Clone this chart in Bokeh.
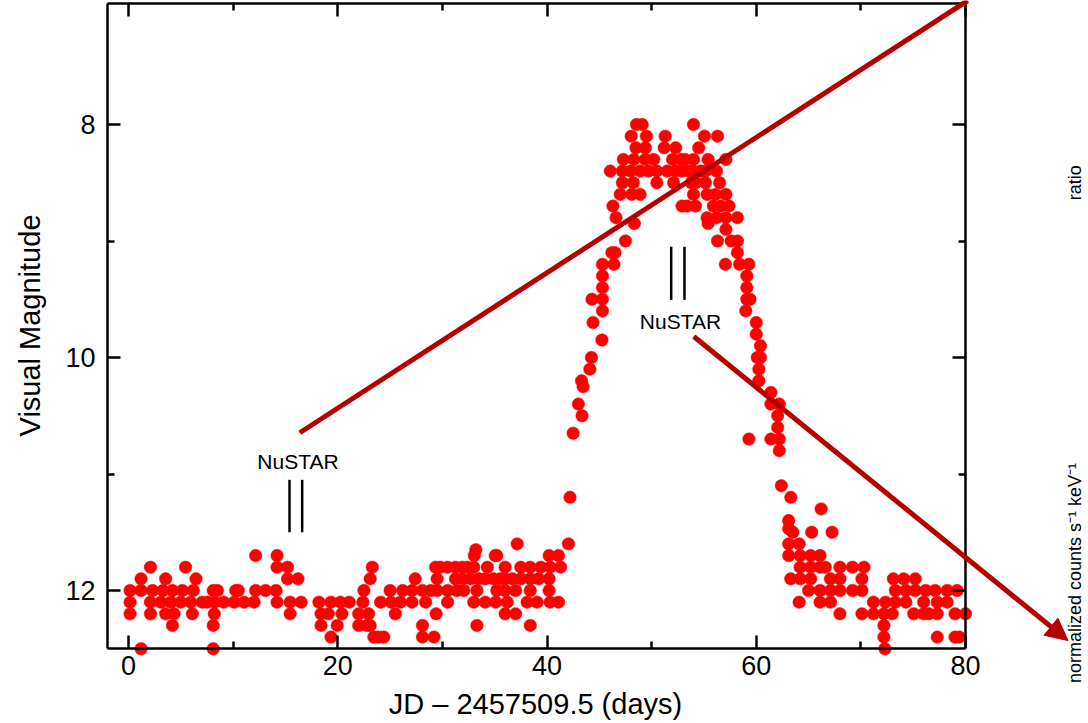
import math
from bokeh.plotting import figure
from bokeh.models import (Range1d, LinearAxis, FixedTicker, Label, Arrow,
                          NormalHead, ColumnDataSource)
from bokeh.embed import file_html
from bokeh.resources import INLINE

# ---------------- data: (JD - 2457509.5 [days], visual magnitude) ----------------
early_quiescence = [
    (1.2, 12.5), (8.1, 12.5),
    (19.35, 12.4),
    (4.2, 12.3), (8.1, 12.3), (18.4, 12.3),
    (0.15, 12.2), (2.1, 12.2), (3.55, 12.2), (4.35, 12.2), (6.1, 12.2), (8.2, 12.2),
    (15.45, 12.2), (18.4, 12.2), (19.1, 12.2),
    (0.15, 12.1), (2.1, 12.1), (3.1, 12.1), (4.05, 12.1), (5.0, 12.1), (5.95, 12.1),
    (7.05, 12.1), (7.55, 12.1), (8.2, 12.1), (9.1, 12.1), (10.1, 12.1), (11.05, 12.1),
    (12.0, 12.1), (14.2, 12.1), (15.45, 12.1), (16.5, 12.1), (18.2, 12.1), (19.35, 12.1),
    (0.15, 12.0), (1.2, 12.0), (2.3, 12.0), (3.3, 12.0), (4.2, 12.0), (5.15, 12.0),
    (6.2, 12.0), (8.1, 12.0), (8.5, 12.0), (10.25, 12.0), (10.5, 12.0), (12.15, 12.0),
    (13.1, 12.0), (14.1, 12.0),
    (1.2, 11.9), (3.55, 11.9), (6.45, 11.9), (15.2, 11.9), (16.2, 11.9),
    (2.1, 11.8), (5.45, 11.8), (14.2, 11.8), (15.2, 11.8),
    (12.15, 11.7), (14.2, 11.7),
]

late_quiescence = [
    (23.45, 12.4), (23.9, 12.4), (24.4, 12.4), (28.1, 12.4), (29.2, 12.4),
    (19.95, 12.3), (22.0, 12.3), (22.8, 12.3), (23.1, 12.3), (28.1, 12.3), (33.3, 12.3),
    (38.4, 12.3),
    (20.4, 12.2), (22.0, 12.2), (22.95, 12.2), (25.5, 12.2), (29.4, 12.2), (36.0, 12.2),
    (37.0, 12.2),
    (20.25, 12.1), (21.1, 12.1), (22.4, 12.1), (24.1, 12.1), (25.1, 12.1), (26.0, 12.1),
    (27.1, 12.1), (28.4, 12.1), (30.5, 12.1), (33.0, 12.1), (34.1, 12.1), (35.1, 12.1),
    (36.2, 12.1), (38.1, 12.1), (39.05, 12.1), (40.3, 12.1), (41.1, 12.1),
    (22.5, 12.0), (25.0, 12.0), (26.2, 12.0), (27.1, 12.0), (28.1, 12.0), (28.9, 12.0),
    (29.5, 12.0), (30.5, 12.0), (31.4, 12.0), (32.05, 12.0), (33.3, 12.0), (35.2, 12.0),
    (36.0, 12.0), (37.0, 12.0), (38.4, 12.0), (40.2, 12.0),
    (23.1, 11.9), (27.4, 11.9), (29.5, 11.9), (31.25, 11.9), (31.9, 11.9), (32.7, 11.9),
    (33.5, 11.9), (34.1, 11.9), (34.9, 11.9), (35.55, 11.9), (36.0, 11.9), (36.7, 11.9),
    (37.5, 11.9), (38.4, 11.9), (39.2, 11.9), (40.2, 11.9),
    (23.3, 11.8), (29.35, 11.8), (29.8, 11.8), (30.5, 11.8), (31.25, 11.8), (31.9, 11.8),
    (32.4, 11.8), (33.0, 11.8), (34.3, 11.8), (36.0, 11.8), (37.5, 11.8), (38.4, 11.8),
    (39.4, 11.8), (40.3, 11.8), (41.3, 11.8),
    (33.05, 11.7), (35.05, 11.7), (35.2, 11.7), (40.2, 11.7), (41.1, 11.7),
    (33.2, 11.65), (37.15, 11.6),
]

outburst = [
    (42.05, 11.6), (42.2, 11.2), (42.5, 10.65), (43.0, 10.4), (43.35, 10.5), (43.3, 10.2),
    (43.45, 10.25), (44.1, 10.1), (44.25, 10.0), (45.25, 9.85), (44.4, 9.7), (45.3, 9.6),
    (44.3, 9.5), (45.3, 9.5), (45.3, 9.4), (45.3, 9.3), (45.3, 9.2), (46.4, 9.2),
    (46.2, 9.1), (46.5, 9.1), (47.5, 9.0), (48.35, 8.85), (46.6, 8.8), (46.3, 8.7),
    (47.0, 8.6), (48.1, 8.6), (48.9, 8.6),
    (47.2, 8.5), (48.25, 8.5), (50.5, 8.5), (52.1, 8.5), (53.8, 8.5),
    (46.05, 8.4), (47.2, 8.4), (48.0, 8.4), (48.9, 8.4), (49.7, 8.4), (50.5, 8.4),
    (51.5, 8.4), (52.3, 8.4), (52.9, 8.4), (53.55, 8.4),
    (47.3, 8.3), (48.3, 8.3), (49.4, 8.3), (50.2, 8.3), (52.0, 8.3), (52.8, 8.3), (53.2, 8.3),
    (48.5, 8.2), (49.4, 8.2), (51.2, 8.2), (52.3, 8.2),
    (48.05, 8.1), (49.5, 8.1), (51.3, 8.1),
    (48.55, 8.0), (49.1, 8.0),
    (52.9, 8.7), (53.4, 8.7),
    (54.0, 8.0), (55.05, 8.1), (56.3, 8.1), (54.5, 8.2),
    (54.0, 8.3), (55.4, 8.3), (57.1, 8.3),
    (54.0, 8.4), (54.7, 8.4), (55.15, 8.4), (56.2, 8.4),
    (54.2, 8.5), (55.15, 8.5), (56.5, 8.5),
    (54.0, 8.6), (55.3, 8.6), (56.1, 8.6), (57.1, 8.6),
    (54.2, 8.7), (55.9, 8.7), (56.6, 8.7), (57.4, 8.7),
    (55.3, 8.8), (56.2, 8.8), (57.1, 8.8), (58.2, 8.8),
    (55.4, 8.85), (57.1, 8.9),
    (56.3, 9.0), (57.6, 9.0), (58.2, 9.0), (58.2, 9.1),
    (57.05, 9.2), (58.4, 9.2), (59.3, 9.2),
    (59.1, 9.3), (59.1, 9.4), (59.1, 9.5), (59.4, 9.5), (59.0, 9.6),
    (60.0, 9.7), (60.0, 9.8), (60.4, 9.9), (60.1, 10.0), (60.4, 10.0), (60.25, 10.1),
    (60.25, 10.2),
]

decline = [
    (61.4, 10.3), (61.4, 10.4), (62.2, 10.4), (62.05, 10.5), (62.05, 10.6),
    (59.3, 10.7), (61.4, 10.7), (62.2, 10.7), (62.2, 10.8),
    (62.4, 11.1), (63.3, 11.2), (66.2, 11.3), (63.1, 11.4),
    (63.1, 11.47), (63.5, 11.5), (65.3, 11.5), (67.25, 11.5),
    (63.1, 11.6), (64.1, 11.6),
    (63.1, 11.7), (64.2, 11.7), (65.2, 11.7), (66.1, 11.7),
    (64.2, 11.8), (65.2, 11.8), (66.1, 11.8), (66.6, 11.8), (68.0, 11.8), (69.2, 11.8),
    (70.3, 11.8),
    (63.3, 11.9), (64.2, 11.9), (65.2, 11.9), (67.1, 11.9), (68.0, 11.9), (70.1, 11.9),
    (73.1, 11.9), (74.1, 11.9), (75.2, 11.9),
    (65.0, 12.0), (66.1, 12.0), (67.1, 12.0), (68.0, 12.0), (69.2, 12.0), (70.1, 12.0),
    (73.3, 12.0), (74.3, 12.0), (75.2, 12.0), (76.2, 12.0), (77.1, 12.0), (78.25, 12.0),
    (79.2, 12.0),
    (64.1, 12.1), (66.1, 12.1), (67.1, 12.1), (71.2, 12.1), (72.35, 12.1), (73.3, 12.1),
    (74.3, 12.1), (76.0, 12.1), (77.3, 12.1), (78.25, 12.1),
    (68.0, 12.2), (70.1, 12.2), (71.2, 12.2), (72.2, 12.2), (73.0, 12.2), (75.05, 12.2),
    (76.0, 12.2), (76.5, 12.2), (77.3, 12.2), (79.0, 12.2), (80.0, 12.2),
    (72.2, 12.3), (72.2, 12.4), (77.3, 12.4), (79.0, 12.4), (79.4, 12.4), (72.3, 12.5),
]

x_ticks = [0, 20, 40, 60, 80]
x_minor = [10, 30, 50, 70]
y_ticks = [8, 10, 12]
y_minor = [9, 11]

# NuSTAR observation epochs (start/end days) and marker placement
nustar_epochs = [(15.39, 16.6), (51.87, 53.14)]
nustar_marks = [(11.05, 11.50), (9.05, 9.505)]
nustar_text = [(16.2, 10.89), (52.76, 9.69)]

# overlaid (hand drawn) dark red pointer lines, in data units
pointer_line = (16.37, 10.646, 80.21, 6.936)
pointer_arrow = (54.03, 9.82, 89.8, 12.43)

# ---------------- figure ----------------
# the frame covers the whole canvas; the axes box spans x in [AX0, AX1], y in [AY_TOP, AY_BOT]
X0, X1 = -12.234, 91.756
Y_BOT, Y_TOP = 13.1416, 6.9356
AX0, AX1 = -2.007, 80.0
AY_BOT, AY_TOP = 12.498, 6.961
DARK = "#b50000"
FONT = "Liberation Sans"

p = figure(width=1088, height=723, output_backend="svg", toolbar_location=None,
           x_range=Range1d(X0, X1), y_range=Range1d(Y_BOT, Y_TOP),
           x_axis_location=None, y_axis_location=None,
           min_border_left=0, min_border_right=0, min_border_top=0,
           min_border_bottom=0)
p.outline_line_color = None
p.xgrid.visible = False
p.ygrid.visible = False
p.background_fill_color = "white"
p.border_fill_color = "white"


def make_axis(loc, ticks, minor, bounds, labels=True):
    ax = LinearAxis(fixed_location=loc)
    ax.ticker = FixedTicker(ticks=ticks, minor_ticks=minor)
    ax.bounds = bounds
    ax.axis_line_width = 2.5
    ax.axis_line_color = "black"
    ax.major_tick_line_width = 2.5
    ax.minor_tick_line_width = 2.5
    ax.major_tick_in = 13
    ax.major_tick_out = 0
    ax.minor_tick_in = 7
    ax.minor_tick_out = 0
    ax.major_label_text_font = FONT
    ax.major_label_text_font_size = "27px"
    ax.major_label_text_color = "black" if labels else None
    return ax


bottom = make_axis(AY_BOT, x_ticks, x_minor, (AX0, AX1))
bottom.major_label_standoff = 7
p.add_layout(bottom, "below")

left = make_axis(AX0, y_ticks, y_minor, (AY_TOP, AY_BOT))
left.major_label_standoff = 12
p.add_layout(left, "left")

top = make_axis(AY_TOP, x_ticks, x_minor, (AX0, AX1), labels=False)
p.add_layout(top, "above")

right = make_axis(AX1, y_ticks, y_minor, (AY_TOP, AY_BOT), labels=False)
p.add_layout(right, "right")

# axis titles
p.add_layout(Label(x=38.9, y=12.97, text="JD \u2013 2457509.5 (days)", text_font=FONT,
                   text_font_size="29px", text_align="center", text_baseline="middle",
                   text_color="black"))
p.add_layout(Label(x=-9.37, y=9.725, text="Visual Magnitude", angle=math.pi / 2,
                   text_font=FONT, text_font_size="29px", text_align="center",
                   text_baseline="middle", text_color="black"))

# data points
pts = early_quiescence + late_quiescence + outburst + decline
src = ColumnDataSource(dict(x=[d for d, m in pts], y=[m for d, m in pts]))
p.scatter("x", "y", source=src, marker="circle", size=12.5,
          fill_color="#ff0000", line_color="#ff0000", line_width=0.5)

# NuSTAR markers
for (a, b), (y0, y1), (tx, ty) in zip(nustar_epochs, nustar_marks, nustar_text):
    p.segment(x0=[a, b], y0=[y0, y0], x1=[a, b], y1=[y1, y1],
              line_color="black", line_width=2.5)
    p.add_layout(Label(x=tx, y=ty, text="NuSTAR", text_font=FONT,
                       text_font_size="21px", text_align="center",
                       text_baseline="middle", text_color="black"))

# overlaid pointers
x0, y0, x1, y1 = pointer_line
p.add_layout(Arrow(end=None, x_start=x0, y_start=y0, x_end=x1, y_end=y1,
                   line_color=DARK, line_width=5))
x0, y0, x1, y1 = pointer_arrow
p.add_layout(Arrow(end=NormalHead(size=22, fill_color=DARK, line_color=DARK),
                   x_start=x0, y_start=y0, x_end=x1, y_end=y1,
                   line_color=DARK, line_width=5))

# side texts (remnants of an overlaid spectrum panel)
p.add_layout(Label(x=90.5, y=8.50, text="ratio", angle=math.pi / 2,
                   text_font=FONT, text_font_size="18px", text_align="center",
                   text_baseline="middle", text_color="black"))
p.add_layout(Label(x=90.5, y=11.85, text="normalized counts s\u207b\u00b9 keV\u207b\u00b9",
                   angle=math.pi / 2, text_font=FONT, text_font_size="18px",
                   text_align="center", text_baseline="middle", text_color="black"))

open("out.html", "w").write(file_html(p, INLINE))
